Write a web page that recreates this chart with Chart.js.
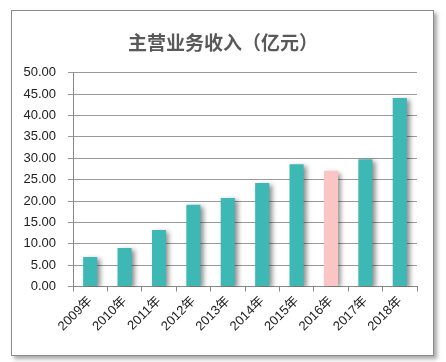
<!DOCTYPE html>
<html>
<head>
<meta charset="utf-8">
<script src="https://cdn.jsdelivr.net/npm/chart.js@4.4.0/dist/chart.umd.min.js"></script>
<style>
html,body{margin:0;padding:0;background:#fff;}
#frame{position:absolute;left:11px;top:10px;width:421px;height:344px;border:1px solid #8c8c8c;box-shadow:3px 3px 4px rgba(0,0,0,0.35);background:#fff;}
#wrap{position:absolute;left:0;top:0;width:446px;height:362px;}
</style>
</head>
<body>
<div id="frame"></div>
<div id="wrap"><canvas id="c" width="446" height="362"></canvas></div>
<script>
const categories = ['2009年','2010年','2011年','2012年','2013年','2014年','2015年','2016年','2017年','2018年'];
const revenue = [6.9, 9.0, 13.2, 19.1, 20.7, 24.2, 28.6, 27.1, 29.8, 44.1];
const highlightCategory = '2016年';
const titleText = '主营业务收入（亿元）';

const teal = '#3DB8B5';
const pink = '#FCC5C5';

const shadowPlugin = {
  id: 'barShadow',
  beforeDatasetsDraw(chart) {
    const ctx = chart.ctx;
    ctx.save();
    ctx.shadowColor = 'rgba(0,0,0,0.45)';
    ctx.shadowBlur = 5;
    ctx.shadowOffsetX = 3;
    ctx.shadowOffsetY = 2;
  },
  afterDatasetsDraw(chart) {
    chart.ctx.restore();
  }
};

// center the title over the whole frame rather than the padded area
const titleCenterPlugin = {
  id: 'titleCenter',
  afterLayout(chart) {
    const t = chart.titleBlock;
    if (t) { t.left = 0; t.right = chart.width; t.width = chart.width; }
  }
};

new Chart(document.getElementById('c'), {
  type: 'bar',
  data: {
    labels: categories,
    datasets: [{
      data: revenue,
      backgroundColor: categories.map(c => c === highlightCategory ? pink : teal),
      barPercentage: 0.41,
      categoryPercentage: 1.0,
      borderWidth: 0
    }]
  },
  options: {
    responsive: false,
    animation: false,
    devicePixelRatio: 1,
    layout: { padding: { left: 0, right: 29, top: 31, bottom: 0 } },
    plugins: {
      legend: { display: false },
      tooltip: { enabled: false },
      title: {
        display: true,
        text: titleText,
        color: '#595959',
        font: { family: '"Noto Sans CJK SC", sans-serif', size: 19, weight: 'bold', lineHeight: 1.2 },
        padding: { top: 0, bottom: 19 }
      }
    },
    scales: {
      x: {
        offset: true,
        grid: { display: true, drawOnChartArea: false, drawTicks: true, tickLength: 5, color: '#888', offset: true },
        border: { display: true, color: '#888', width: 1 },
        ticks: {
          autoSkip: false,
          maxRotation: 45, minRotation: 45,
          padding: 2,
          color: '#222',
          font: { family: '"Liberation Sans", Arial, "Noto Sans CJK SC", sans-serif', size: 13 }
        },
        afterFit(scale) { scale.height = 362 - 286.5; }
      },
      y: {
        min: 0, max: 50,
        grid: { color: '#9a9a9a', lineWidth: 1, drawTicks: true, tickLength: 5 },
        border: { display: true, color: '#888', width: 1 },
        ticks: {
          stepSize: 5,
          padding: 12,
          color: '#222',
          font: { family: '"Liberation Sans", Arial, sans-serif', size: 13 },
          callback: v => Number(v).toFixed(2)
        },
        afterFit(scale) { scale.width = 73; }
      }
    }
  },
  plugins: [shadowPlugin, titleCenterPlugin]
});
</script>
</body>
</html>
